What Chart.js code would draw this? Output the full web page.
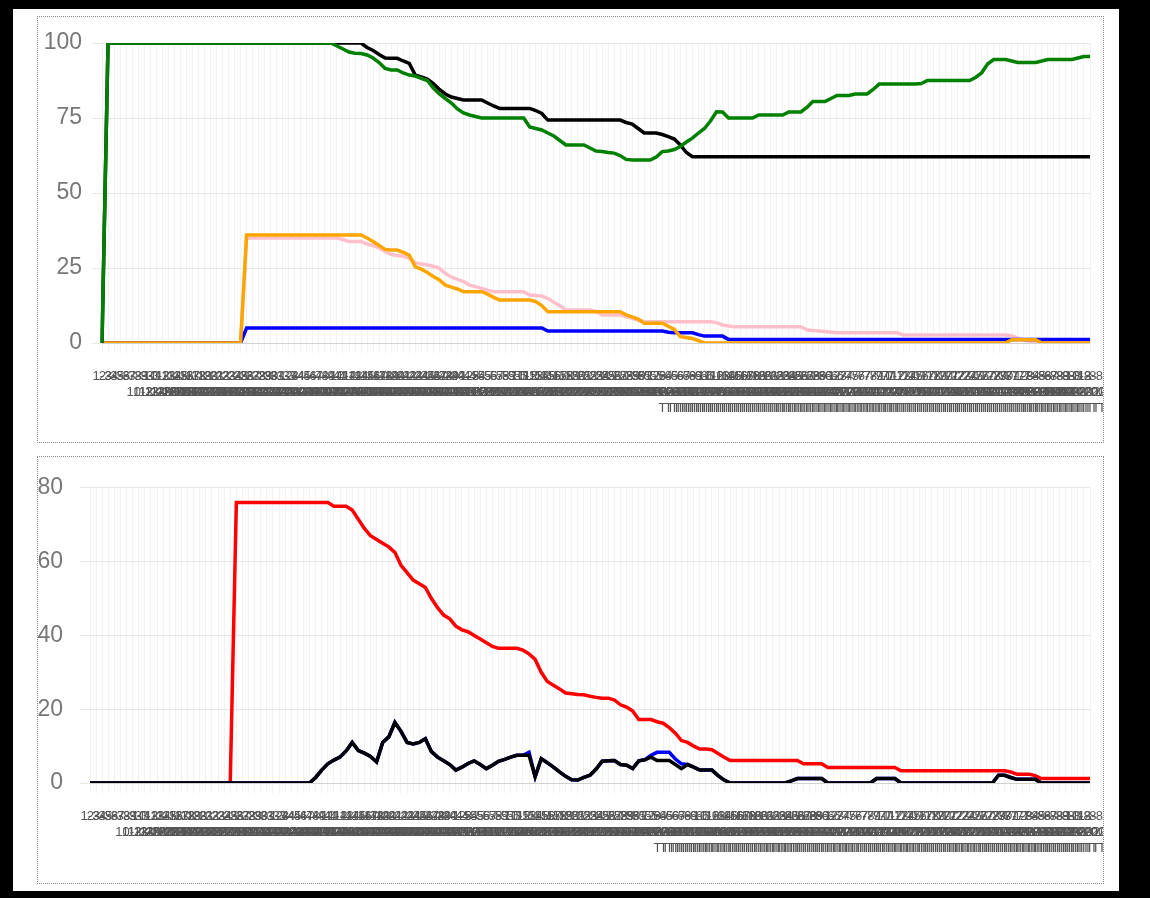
<!DOCTYPE html>
<html>
<head>
<meta charset="utf-8">
<script src="https://cdn.jsdelivr.net/npm/chart.js@4.4.1/dist/chart.umd.min.js"></script>
<style>
    html, body { margin: 0; padding: 0; }
    body { width: 1150px; height: 898px; background: #000; position: relative; overflow: hidden; }
    .page { position: absolute; left: 13px; top: 9px; width: 1106px; height: 882px; background: #fff; }
    .panel { position: absolute; left: 37px; width: 1067px; border: 1px dotted #888; box-sizing: border-box; background: #fff; }
    #p1 { top: 16px; height: 427px; }
    #p2 { top: 456px; height: 428px; }
    .panel canvas { position: absolute; left: 0; top: 0; filter: blur(0.45px); }
</style>
</head>
<body>
<div class="page"></div>
<div class="panel" id="p1"><canvas id="topChart" width="1065" height="425"></canvas></div>
<div class="panel" id="p2"><canvas id="bottomChart" width="1065" height="426"></canvas></div>
<script>
const categories = [
    "1-3","2-3","3-3","4-3","5-3","6-3","7-3","8-3","9-3","10-3","11-3","12-3","13-3","14-3","15-3","16-3",
    "17-3","18-3","19-3","20-3","21-3","22-3","23-3","24-3","25-3","26-3","27-3","28-3","29-3","30-3","31-3",
    "1-4","2-4","3-4","4-4","5-4","6-4","7-4","8-4","9-4","10-4","11-4","12-4","13-4","14-4","15-4","16-4",
    "17-4","18-4","19-4","20-4","21-4","22-4","23-4","24-4","25-4","26-4","27-4","28-4","29-4","30-4",
    "1-5","2-5","3-5","4-5","5-5","6-5","7-5","8-5","9-5","10-5","11-5","12-5","13-5","14-5","15-5","16-5",
    "17-5","18-5","19-5","20-5","21-5","22-5","23-5","24-5","25-5","26-5","27-5","28-5","29-5","30-5","31-5",
    "1-6","2-6","3-6","4-6","5-6","6-6","7-6","8-6","9-6","10-6","11-6","12-6","13-6","14-6","15-6","16-6",
    "17-6","18-6","19-6","20-6","21-6","22-6","23-6","24-6","25-6","26-6","27-6","28-6","29-6","30-6",
    "1-7","2-7","3-7","4-7","5-7","6-7","7-7","8-7","9-7","10-7","11-7","12-7","13-7","14-7","15-7","16-7",
    "17-7","18-7","19-7","20-7","21-7","22-7","23-7","24-7","25-7","26-7","27-7","28-7","29-7","30-7","31-7",
    "1-8","2-8","3-8","4-8","5-8","6-8","7-8","8-8","9-8","10-8","11-8","12-8"
];

// top chart
const greenTop = [
    0, 100, 100, 100, 100, 100, 100, 100, 100, 100,
    100, 100, 100, 100, 100, 100, 100, 100, 100, 100,
    100, 100, 100, 100, 100, 100, 100, 100, 100, 100,
    100, 100, 100, 100, 100, 100, 100, 100, 100, 99,
    98, 97, 96.6, 96.5, 96, 95, 93.5, 91.5, 91, 91,
    90, 89.3, 89, 88.2, 87.5, 85, 83, 81.5, 80, 78,
    76.7, 76, 75.5, 75, 75, 75, 75, 75, 75, 75,
    75, 72, 71.5, 71, 70, 69, 67.5, 66, 66, 66,
    66, 65, 64, 63.8, 63.5, 63.3, 62.5, 61.2, 61, 61,
    61, 61, 62, 63.8, 64, 64.5, 65.5, 67, 68.3, 70,
    71.5, 74, 77.1, 77, 75, 75, 75, 75, 75, 76,
    76, 76, 76, 76, 77, 77, 77, 78.5, 80.5, 80.5,
    80.5, 81.5, 82.5, 82.5, 82.5, 83, 83, 83, 84.5, 86.3,
    86.3, 86.3, 86.3, 86.3, 86.3, 86.3, 86.5, 87.5, 87.5, 87.5,
    87.5, 87.5, 87.5, 87.5, 87.5, 88.5, 90, 93, 94.5, 94.5,
    94.5, 94, 93.5, 93.5, 93.5, 93.5, 94, 94.5, 94.5, 94.5,
    94.5, 94.5, 95, 95.5, 95.5
];
const blackTop = [
    0, 100, 100, 100, 100, 100, 100, 100, 100, 100,
    100, 100, 100, 100, 100, 100, 100, 100, 100, 100,
    100, 100, 100, 100, 100, 100, 100, 100, 100, 100,
    100, 100, 100, 100, 100, 100, 100, 100, 100, 100,
    100, 100, 100, 100, 98.5, 97.5, 96.2, 95, 94.9, 94.9,
    94, 93.2, 89.3, 88.7, 88, 86.5, 84.5, 83, 82, 81.5,
    81, 81, 81, 81, 80, 79, 78.2, 78.2, 78.2, 78.2,
    78.2, 78.2, 77.5, 76.5, 74.3, 74.3, 74.3, 74.3, 74.3, 74.3,
    74.3, 74.3, 74.3, 74.3, 74.3, 74.3, 74.3, 73.5, 73, 71.5,
    70, 70, 70, 69.5, 68.8, 68, 66, 63.5, 62.1, 62.1,
    62.1, 62.1, 62.1, 62.1, 62.1, 62.1, 62.1, 62.1, 62.1, 62.1,
    62.1, 62.1, 62.1, 62.1, 62.1, 62.1, 62.1, 62.1, 62.1, 62.1,
    62.1, 62.1, 62.1, 62.1, 62.1, 62.1, 62.1, 62.1, 62.1, 62.1,
    62.1, 62.1, 62.1, 62.1, 62.1, 62.1, 62.1, 62.1, 62.1, 62.1,
    62.1, 62.1, 62.1, 62.1, 62.1, 62.1, 62.1, 62.1, 62.1, 62.1,
    62.1, 62.1, 62.1, 62.1, 62.1, 62.1, 62.1, 62.1, 62.1, 62.1,
    62.1, 62.1, 62.1, 62.1, 62.1
];
const orangeTop = [
    0, 0, 0, 0, 0, 0, 0, 0, 0, 0,
    0, 0, 0, 0, 0, 0, 0, 0, 0, 0,
    0, 0, 0, 0, 36, 36, 36, 36, 36, 36,
    36, 36, 36, 36, 36, 36, 36, 36, 36, 36,
    36, 36, 36, 36, 35, 33.8, 32.5, 31.2, 31, 31,
    30.2, 29.3, 25.4, 24.6, 23.5, 22.2, 21, 19.3, 18.6, 18,
    17.1, 17.1, 17.1, 17.1, 16.3, 15.2, 14.3, 14.3, 14.3, 14.3,
    14.3, 14.3, 13.8, 12.5, 10.4, 10.4, 10.4, 10.4, 10.4, 10.4,
    10.4, 10.4, 10.4, 10.4, 10.4, 10.4, 10.4, 9.4, 8.7, 8,
    6.6, 6.6, 6.6, 6.6, 5.6, 4.5, 2.1, 1.8, 1.5, 0.8,
    0, 0, 0, 0, 0, 0, 0, 0, 0, 0,
    0, 0, 0, 0, 0, 0, 0, 0, 0, 0,
    0, 0, 0, 0, 0, 0, 0, 0, 0, 0,
    0, 0, 0, 0, 0, 0, 0, 0, 0, 0,
    0, 0, 0, 0, 0, 0, 0, 0, 0, 0,
    0, 1.1, 1.1, 1.1, 1.1, 1.1, 0, 0, 0, 0,
    0, 0, 0, 0, 0
];
const blueTop = [
    0, 0, 0, 0, 0, 0, 0, 0, 0, 0,
    0, 0, 0, 0, 0, 0, 0, 0, 0, 0,
    0, 0, 0, 0, 5, 5, 5, 5, 5, 5,
    5, 5, 5, 5, 5, 5, 5, 5, 5, 5,
    5, 5, 5, 5, 5, 5, 5, 5, 5, 5,
    5, 5, 5, 5, 5, 5, 5, 5, 5, 5,
    5, 5, 5, 5, 5, 5, 5, 5, 5, 5,
    5, 5, 5, 5, 4, 4, 4, 4, 4, 4,
    4, 4, 4, 4, 4, 4, 4, 4, 4, 4,
    4, 4, 4, 4, 3.6, 3.4, 3.4, 3.4, 3.4, 2.8,
    2.3, 2.3, 2.3, 2.3, 1.2, 1.2, 1.2, 1.2, 1.2, 1.2,
    1.2, 1.2, 1.2, 1.2, 1.2, 1.2, 1.2, 1.2, 1.2, 1.2,
    1.2, 1.2, 1.2, 1.2, 1.2, 1.2, 1.2, 1.2, 1.2, 1.2,
    1.2, 1.2, 1.2, 1.2, 1.2, 1.2, 1.2, 1.2, 1.2, 1.2,
    1.2, 1.2, 1.2, 1.2, 1.2, 1.2, 1.2, 1.2, 1.2, 1.2,
    1.2, 1.2, 1.2, 1.2, 1.2, 1.2, 1.2, 1.2, 1.2, 1.2,
    1.2, 1.2, 1.2, 1.2, 1.2
];
const pinkTop = [
    0, 0, 0, 0, 0, 0, 0, 0, 0, 0,
    0, 0, 0, 0, 0, 0, 0, 0, 0, 0,
    0, 0, 0, 0, 35, 35, 35, 35, 35, 35,
    35, 35, 35, 35, 35, 35, 35, 35, 35, 35,
    34.5, 33.8, 33.8, 33.8, 33, 32.5, 31.7, 30.5, 29.5, 29.2,
    28.9, 28.2, 26.8, 26.3, 26, 25.6, 24.9, 23.2, 22, 21.2,
    20.5, 19.3, 18.8, 18.2, 17.6, 17.1, 17.1, 17.1, 17.1, 17.1,
    17.1, 16, 15.8, 15.7, 14.8, 13.6, 12.4, 11, 11, 11,
    11, 11, 10.5, 9.3, 9.3, 9.3, 9.3, 8.8, 8.2, 7.6,
    7.1, 7.1, 7.1, 7.1, 7.1, 7.1, 7.1, 7.1, 7.1, 7.1,
    7.1, 7.1, 6.8, 6, 5.7, 5.4, 5.4, 5.4, 5.4, 5.4,
    5.4, 5.4, 5.4, 5.4, 5.4, 5.4, 5.4, 4.4, 4.2, 4,
    3.8, 3.6, 3.4, 3.4, 3.4, 3.4, 3.4, 3.4, 3.4, 3.4,
    3.4, 3.4, 3.4, 2.7, 2.7, 2.7, 2.7, 2.7, 2.7, 2.7,
    2.7, 2.7, 2.7, 2.7, 2.7, 2.7, 2.7, 2.7, 2.7, 2.7,
    2.7, 2.4, 1.6, 1, 0.6, 0.6, 0.6, 0.6, 0.6, 0.6,
    0.6, 0.6, 0.6, 0.6, 0.6
];

// bottom chart
const redBottom = [
    0, 0, 0, 0, 0, 0, 0, 0, 0, 0,
    0, 0, 0, 0, 0, 0, 0, 0, 0, 0,
    0, 0, 0, 0, 76, 76, 76, 76, 76, 76,
    76, 76, 76, 76, 76, 76, 76, 76, 76, 76,
    75, 75, 75, 74, 71.5, 69, 67, 66, 65, 64,
    62.5, 59, 57, 55, 54, 53, 50, 47.5, 45.5, 44.5,
    42.5, 41.5, 41, 40, 39, 38, 37, 36.5, 36.5, 36.5,
    36.5, 36, 35, 33.5, 30, 27.5, 26.5, 25.5, 24.4, 24.2,
    24, 23.9, 23.5, 23.2, 23, 23, 22.5, 21.2, 20.6, 19.5,
    17.2, 17.2, 17.2, 16.6, 16.2, 15, 13.5, 11.5, 11, 10,
    9.2, 9.2, 9, 8, 7, 6.1, 6.1, 6.1, 6.1, 6.1,
    6.1, 6.1, 6.1, 6.1, 6.1, 6.1, 6.1, 5.2, 5.2, 5.2,
    5.2, 4.2, 4.2, 4.2, 4.2, 4.2, 4.2, 4.2, 4.2, 4.2,
    4.2, 4.2, 4.2, 3.3, 3.3, 3.3, 3.3, 3.3, 3.3, 3.3,
    3.3, 3.3, 3.3, 3.3, 3.3, 3.3, 3.3, 3.3, 3.3, 3.3,
    3.3, 3, 2.4, 2.4, 2.4, 2, 1.2, 1.2, 1.2, 1.2,
    1.2, 1.2, 1.2, 1.2, 1.2
];
const blackBottom = [
    0, 0, 0, 0, 0, 0, 0, 0, 0, 0,
    0, 0, 0, 0, 0, 0, 0, 0, 0, 0,
    0, 0, 0, 0, 0, 0, 0, 0, 0, 0,
    0, 0, 0, 0, 0, 0, 0, 1.5, 3.5, 5.2,
    6.2, 7, 8.7, 11, 8.8, 8.1, 7.2, 5.7, 11, 12.5,
    16.4, 14, 11, 10.6, 11, 12, 8.5, 7, 6, 5,
    3.5, 4.3, 5.3, 6, 5, 3.9, 4.8, 5.9, 6.4, 7,
    7.5, 7.5, 7.5, 1.7, 6.6, 5.5, 4.3, 3, 1.8, 0.9,
    0.8, 1.5, 2.1, 3.8, 5.9, 6, 6.1, 5, 4.8, 3.9,
    6, 6.3, 7, 6.1, 6.1, 6.1, 5, 3.9, 5, 4.3,
    3.5, 3.5, 3.5, 2, 0.8, 0, 0, 0, 0, 0,
    0, 0, 0, 0, 0, 0.6, 1.2, 1.2, 1.2, 1.2,
    1.2, 0, 0, 0, 0, 0, 0, 0, 0, 1.2,
    1.2, 1.2, 1.2, 0, 0, 0, 0, 0, 0, 0,
    0, 0, 0, 0, 0, 0, 0, 0, 0, 2.1,
    2.1, 1.5, 1, 1, 1, 1, 0, 0, 0, 0,
    0, 0, 0, 0, 0
];
const blueBottom = [
    0, 0, 0, 0, 0, 0, 0, 0, 0, 0,
    0, 0, 0, 0, 0, 0, 0, 0, 0, 0,
    0, 0, 0, 0, 0, 0, 0, 0, 0, 0,
    0, 0, 0, 0, 0, 0, 0, 1.5, 3.5, 5.2,
    6.2, 7, 8.7, 11, 8.8, 8.1, 7.2, 5.7, 11, 12.5,
    16.4, 14, 11, 10.6, 11, 12, 8.5, 7, 6, 5,
    3.5, 4.3, 5.3, 6, 5, 3.9, 4.8, 5.9, 6.4, 7,
    7.5, 7.5, 8.3, 1.7, 6.6, 5.5, 4.3, 3, 1.8, 0.9,
    0.8, 1.5, 2.1, 3.8, 5.9, 6, 6.1, 5, 4.8, 3.9,
    6, 6.3, 7.5, 8.3, 8.3, 8.3, 6.5, 5.2, 5, 4.3,
    3.5, 3.5, 3.5, 2, 0.8, 0, 0, 0, 0, 0,
    0, 0, 0, 0, 0, 0.6, 1.2, 1.2, 1.2, 1.2,
    1.2, 0, 0, 0, 0, 0, 0, 0, 0, 1.2,
    1.2, 1.2, 1.2, 0, 0, 0, 0, 0, 0, 0,
    0, 0, 0, 0, 0, 0, 0, 0, 0, 2.1,
    2.1, 1.5, 1, 1, 1, 1, 0, 0, 0, 0,
    0, 0, 0, 0, 0
];

const topTicks = [0, 25, 50, 75, 100];
const bottomTicks = [0, 20, 40, 60, 80];

function line(data, color) {
    return {
        data: data,
        borderColor: color,
        backgroundColor: color,
        borderWidth: 3.5,
        pointRadius: 0,
        tension: 0,
        fill: false
    };
}

function xLabel(value, index) {
    const lines = [categories[index]];
    if (index >= 9) lines.push(categories[index] + "-2020");
    if (index >= 95) lines.push("TTTT");
    return lines;
}

function options(ticks, yWidth, yPad, xHeight) {
    return {
        responsive: false,
        animation: false,
        layout: { padding: { top: 26, right: 13, left: 0, bottom: 0 } },
        plugins: { legend: { display: false }, tooltip: { enabled: false } },
        scales: {
            x: {
                grid: { color: "rgba(0,0,0,0.05)", tickLength: 10 },
                ticks: {
                    autoSkip: false, maxRotation: 0, minRotation: 0, padding: 16,
                    color: "#555", font: { family: "Liberation Sans", size: 13 },
                    callback: xLabel
                },
                afterFit: function (s) { s.height = xHeight; s.paddingLeft = 0; s.paddingRight = 0; }
            },
            y: {
                min: ticks[0],
                max: ticks[ticks.length - 1],
                grid: { color: "rgba(0,0,0,0.09)", tickLength: 10 },
                border: { display: false },
                afterBuildTicks: function (s) { s.ticks = ticks.map(v => ({ value: v })); },
                ticks: {
                    padding: yPad, color: "#777",
                    font: { family: "Liberation Sans", size: 23 }
                },
                afterFit: function (s) { s.width = yWidth; }
            }
        }
    };
}

new Chart(
    document.getElementById("topChart"),
    {
        type: "line",
        data: {
            labels: categories,
            datasets: [
                line(greenTop, "green"),
                line(blackTop, "black"),
                line(orangeTop, "orange"),
                line(blueTop, "blue"),
                line(pinkTop, "pink")
            ]
        },
        options: options(topTicks, 64, 10, 99)
    }
);

new Chart(
    document.getElementById("bottomChart"),
    {
        type: "line",
        data: {
            labels: categories,
            datasets: [
                line(blackBottom, "black"),
                line(blueBottom, "blue"),
                line(redBottom, "red")
            ]
        },
        options: options(bottomTicks, 52, 17, 100)
    }
);
</script>
</body>
</html>
